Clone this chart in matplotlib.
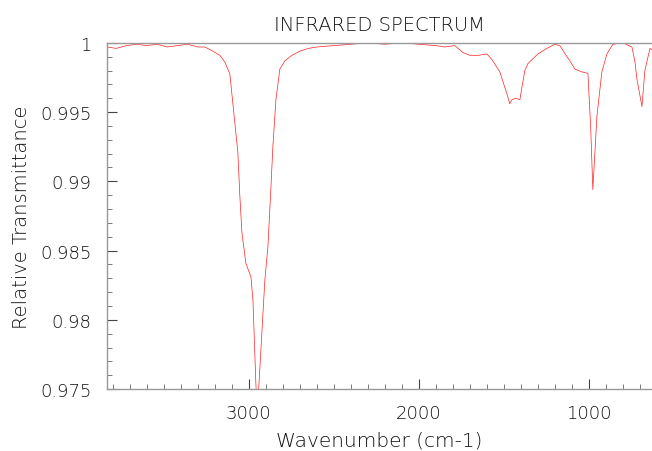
import matplotlib
matplotlib.use("Agg")
import matplotlib.pyplot as plt
from matplotlib.ticker import MultipleLocator, FuncFormatter

# ------------------- Data -------------------
wavenumber = [3835, 3780, 3720, 3660, 3600, 3540, 3480, 3420, 3360, 3300,
              3259, 3212, 3171, 3141, 3112, 3065, 3053, 3041, 3018, 2988,
              2976, 2959, 2953, 2945, 2935, 2906, 2888, 2871, 2859, 2841,
              2818, 2788, 2747, 2700, 2650, 2600, 2500, 2400, 2300, 2200,
              2100, 2000, 1900, 1850, 1788, 1741, 1700, 1650, 1600, 1571,
              1524, 1482, 1465, 1453, 1430, 1406, 1394, 1377, 1359, 1300,
              1247, 1200, 1171, 1140, 1112, 1082, 1041, 1006, 990, 977,
              953, 924, 894, 859, 800, 747, 729, 718, 700, 688, 671, 641, 629]
transmittance = [0.9997, 0.9996, 0.9998, 0.9999, 0.9998, 0.9999, 0.9997, 0.9998, 0.9999, 0.9997,
                 0.9997, 0.9994, 0.9991, 0.9986, 0.99775, 0.9921, 0.9889, 0.9863, 0.9841, 0.9831,
                 0.9814, 0.9754, 0.9740, 0.9745, 0.9766, 0.9829, 0.9853, 0.9894, 0.9925, 0.9959,
                 0.9981, 0.9987, 0.9991, 0.9994, 0.9996, 0.9997, 0.9998, 0.9999, 1.0000, 0.9999,
                 1.0000, 0.9999, 0.9998, 0.9997, 0.9998, 0.9993, 0.9991, 0.9991, 0.9992, 0.9988,
                 0.9979, 0.9963, 0.9956, 0.9959, 0.9960, 0.9959, 0.9968, 0.9980, 0.9985, 0.9992,
                 0.9996, 0.9999, 0.9998, 0.9992, 0.9987, 0.9981, 0.9979, 0.9978, 0.9940, 0.9894,
                 0.9947, 0.9979, 0.9992, 0.9999, 1.0000, 0.9997, 0.9986, 0.9974, 0.9962, 0.9954,
                 0.9980, 0.9996, 0.9995]

x_ticks = [3000, 2000, 1000]
y_ticks = [0.975, 0.98, 0.985, 0.99, 0.995, 1.0]

# ------------------- Plot -------------------
plt.rcParams['font.family'] = ['DejaVu Sans']
text_color = '#111111'

fig = plt.figure(figsize=(6.52, 4.52), dpi=100)
ax = fig.add_axes([0.164, 0.137, 0.836, 0.766])

ax.plot(wavenumber, transmittance, color='#ff2020', lw=0.5)

ax.set_xlim(3835, 629)
ax.set_ylim(0.975, 1.0)
ax.set_xticks(x_ticks)
ax.set_yticks(y_ticks)
ax.xaxis.set_minor_locator(MultipleLocator(100))
ax.yaxis.set_minor_locator(MultipleLocator(0.001))
ax.yaxis.set_major_formatter(FuncFormatter(lambda v, p: f"{v:g}"))

ax.tick_params(which='major', direction='in', length=7, width=0.8, colors='#444444',
               labelcolor=text_color, labelsize=13)
ax.tick_params(which='minor', direction='in', length=3.5, width=0.6, colors='#666666')
ax.tick_params(axis='x', pad=11)
ax.tick_params(axis='y', pad=11)
for lbl in ax.get_xticklabels() + ax.get_yticklabels():
    lbl.set_fontweight('light')

for side in ['left', 'top', 'bottom']:
    ax.spines[side].set_color('#999999')
    ax.spines[side].set_linewidth(1.0)
ax.spines['right'].set_visible(False)

ax.set_title("INFRARED SPECTRUM", fontsize=14, color=text_color, pad=9, fontweight='light')
ax.set_xlabel("Wavenumber (cm-1)", fontsize=14.5, color=text_color, labelpad=6, fontweight='light')
ax.set_ylabel("Relative Transmittance", fontsize=14, color=text_color, labelpad=7, fontweight='light')

fig.savefig("out.png", dpi=100)
